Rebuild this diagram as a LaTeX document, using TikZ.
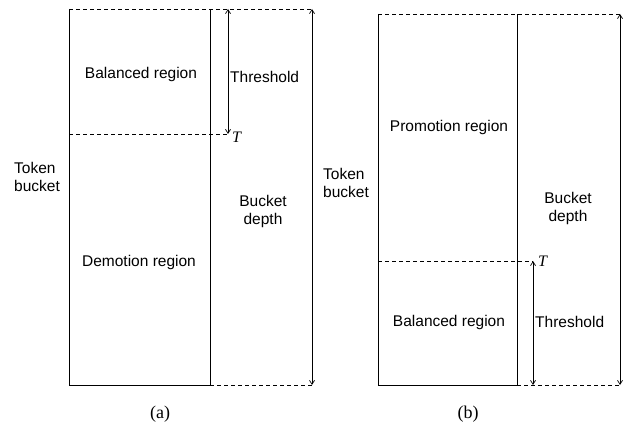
\documentclass[tikz,border=0pt]{standalone}
\usepackage{fontspec}
\setmainfont{Liberation Serif}
\setsansfont{Liberation Sans}
\usepackage{tikz}
\usetikzlibrary{arrows.meta}
\tikzstyle{lbl} = [font=\sffamily\fontsize{15.5}{18}\selectfont, align=center, inner sep=0pt]
\tikzstyle{sidelbl} = [lbl, align=left]
\tikzstyle{limit} = [line width=0.7pt, dash pattern=on 4pt off 3pt]
\tikzstyle{wall} = [line width=0.9pt]
\tikzstyle{measure} = [line width=0.7pt, {Straight Barb[length=4pt,width=5pt]}-{Straight Barb[length=4pt,width=5pt]}]
\tikzstyle{caption} = [font=\fontsize{18}{20}\selectfont, inner sep=0pt]
\tikzstyle{tlbl} = [font=\fontsize{16}{18}\selectfont\itshape, inner sep=0pt]

\begin{document}
\begin{tikzpicture}[x=1pt, y=-1pt]
\useasboundingbox (0,0) rectangle (623,427);
% (a) threshold counted from the top
\coordinate (atl) at (69,9);
\coordinate (atr) at (210,9);
\coordinate (abl) at (69,385);
\coordinate (abr) at (210,385);
\coordinate (aml) at (69,134);
\coordinate (athtop) at (228,9);
\coordinate (aT) at (228,134);
\coordinate (adtop) at (312,9);
\coordinate (adbot) at (312,385);
\draw[wall] (atl) -- (abl) -- (abr) -- (atr);
\draw[limit] (atl) -- (adtop);
\draw[limit] (aml) -- (aT);
\draw[limit] (abr) -- (adbot);
\draw[measure] (athtop) -- (aT);
\draw[measure] (adtop) -- (adbot);
\node[lbl] (abal) at (141,74) {Balanced region};
\node[lbl] (adem) at (139,262) {Demotion region};
\node[sidelbl, anchor=west] (athr) at (230,77) {Threshold};
\node[tlbl, right=4pt] (aTlab) at ([yshift=-3pt]aT) {T};
\node[lbl] (adepth) at (263,211) {Bucket\\depth};
\node[sidelbl] (atok) at (37,177) {Token\\bucket};
\node[caption] (acap) at (160,414) {(a)};
% (b) threshold counted from the bottom
\coordinate (btl) at (378,14);
\coordinate (btr) at (517,14);
\coordinate (bbl) at (378,385);
\coordinate (bbr) at (517,385);
\coordinate (bml) at (378,261);
\coordinate (bT) at (533,261);
\coordinate (bthbot) at (533,385);
\coordinate (bdtop) at (620,14);
\coordinate (bdbot) at (620,385);
\draw[wall] (btl) -- (bbl) -- (bbr) -- (btr);
\draw[limit] (btl) -- (bdtop);
\draw[limit] (bml) -- (bT);
\draw[limit] (bbr) -- (bdbot);
\draw[measure] (bT) -- (bthbot);
\draw[measure] (bdtop) -- (bdbot);
\node[lbl] (bpro) at (449,127) {Promotion region};
\node[lbl] (bbal) at (449,322) {Balanced region};
\node[sidelbl, anchor=west] (bthr) at (535,322) {Threshold};
\node[tlbl, right=5pt] (bTlab) at (bT) {T};
\node[lbl] (bdepth) at (568,208) {Bucket\\depth};
\node[sidelbl] (btok) at (346,183) {Token\\bucket};
\node[caption] (bcap) at (468,414) {(b)};
\end{tikzpicture}
\end{document}
